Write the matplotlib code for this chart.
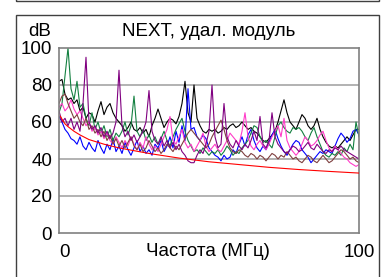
import matplotlib
matplotlib.use("Agg")
import matplotlib.pyplot as plt
from matplotlib.patches import Rectangle

plt.rcParams['font.family'] = ['Liberation Sans', 'DejaVu Sans']

freq = list(range(0, 101))

limit_freq = [0.5, 1, 2, 3, 5, 7, 10, 15, 20, 25, 30, 40, 50, 60, 70, 80, 90, 100]
limit_db = [63, 61.5, 59, 57.5, 55, 53, 50.5, 48, 46, 44.5, 43, 40.5, 38.5, 37, 35.5, 34.3, 33.3, 32.4]

blue = [63, 60, 56, 54, 51, 50, 48, 52, 47, 45, 49, 46, 44, 50, 46, 43, 48, 45, 51, 44,
        47, 43, 49, 45, 42, 46, 50, 44, 47, 43, 45, 42, 48, 46, 50, 44, 47, 52, 46, 55,
        49, 58, 50, 78, 56, 57, 52, 50, 53, 51, 46, 44, 42, 41, 39, 42, 40, 41, 45, 43,
        48, 52, 47, 53, 56, 50, 46, 44, 47, 45, 49, 53, 56, 51, 47, 44, 42, 45, 48, 50,
        49, 45, 43, 41, 38, 40, 42, 44, 43, 45, 44, 43, 47, 51, 54, 52, 49, 51, 55, 56, 53]

black = [82, 83, 75, 72, 73, 70, 72, 66, 68, 62, 65, 64, 60, 66, 71, 64, 68, 70, 65, 62,
         60, 58, 55, 57, 60, 56, 55, 57, 54, 56, 52, 58, 62, 67, 62, 57, 60, 62, 61, 59,
         63, 70, 82, 65, 60, 80, 62, 58, 55, 54, 56, 55, 56, 54, 55, 57, 56, 58, 59, 57,
         58, 60, 58, 56, 57, 55, 54, 52, 50, 49, 51, 53, 55, 60, 66, 72, 65, 60, 58, 56,
         60, 64, 62, 58, 56, 58, 62, 56, 52, 49, 47, 46, 47, 46, 48, 50, 52, 50, 53, 56, 56]

green = [65, 70, 85, 100, 78, 72, 82, 68, 70, 62, 58, 65, 56, 60, 54, 58, 52, 56, 50, 54,
         52, 55, 60, 53, 58, 74, 55, 52, 56, 50, 53, 49, 52, 48, 51, 55, 50, 47, 52, 56,
         59, 62, 55, 50, 47, 44, 45, 43, 46, 44, 42, 44, 43, 45, 42, 44, 47, 45, 42, 44,
         43, 46, 48, 50, 54, 58, 57, 52, 49, 50, 48, 46, 52, 58, 60, 57, 55, 54, 57, 56,
         57, 55, 52, 50, 54, 57, 52, 48, 44, 42, 41, 43, 42, 44, 42, 46, 44, 48, 45, 60, 52]

pink = [68, 70, 66, 68, 72, 67, 64, 66, 62, 58, 60, 55, 57, 53, 55, 51, 54, 50, 48, 52,
        49, 46, 50, 47, 52, 48, 45, 49, 46, 52, 48, 45, 47, 44, 48, 52, 56, 63, 50, 48,
        52, 56, 49, 46, 48, 44, 47, 50, 54, 47, 44, 46, 48, 45, 44, 47, 50, 54, 52, 50,
        48, 55, 65, 52, 47, 45, 48, 50, 47, 45, 48, 52, 55, 58, 52, 62, 50, 46, 44, 42,
        44, 48, 52, 50, 47, 48, 50, 53, 55, 50, 46, 44, 47, 45, 43, 41, 40, 38, 37, 36, 37]

brown = [70, 74, 75, 70, 66, 62, 64, 60, 58, 62, 56, 58, 54, 56, 52, 55, 50, 53, 48, 51,
         47, 50, 46, 49, 52, 47, 45, 48, 44, 46, 50, 47, 44, 46, 43, 45, 48, 46, 44, 47,
         45, 48, 51, 54, 56, 54, 52, 50, 48, 46, 48, 52, 55, 58, 61, 56, 50, 46, 44, 43,
         45, 44, 42, 41, 43, 42, 40, 42, 41, 39, 41, 43, 42, 40, 42, 41, 44, 42, 40, 41,
         39, 38, 40, 42, 41, 39, 38, 40, 42, 40, 38, 39, 41, 43, 45, 44, 42, 40, 41, 39, 38]

purple = [66, 60, 62, 58, 62, 56, 60, 55, 70, 95, 60, 56, 58, 54, 57, 52, 55, 51, 54, 60,
          88, 58, 52, 55, 50, 53, 49, 52, 55, 60, 77, 55, 50, 48, 52, 47, 50, 46, 49, 45,
          48, 44, 42, 39, 38, 38, 42, 45, 43, 48, 55, 80, 52, 46, 48, 70, 52, 48, 46, 50,
          47, 45, 48, 46, 50, 55, 50, 63, 48, 46, 50, 65, 52, 48, 46, 44, 43, 45, 47, 46,
          44, 45, 47, 49, 46, 45, 48, 46, 44, 43, 45, 44, 46, 45, 47, 45, 44, 43, 42, 41, 40]

W, H = 385, 277
fig = plt.figure(figsize=(W / 100, H / 100), dpi=100)

frame_col = '#404040'
top_box = Rectangle((16 / W, 1 - 1.3 / H), 363 / W, 0.05, transform=fig.transFigure,
                    fill=False, edgecolor=frame_col, lw=1.0, clip_on=False)
main_box = Rectangle((16 / W, -0.05), 363 / W, (1 - 14.7 / H) + 0.05, transform=fig.transFigure,
                     fill=False, edgecolor=frame_col, lw=1.0, clip_on=False)
fig.patches.extend([top_box, main_box])

ax = fig.add_axes([59 / W, 44 / H, 300 / W, 185 / H])
ax.set_xlim(0, 100)
ax.set_ylim(0, 100)

for y in [20, 40, 60, 80]:
    ax.axhline(y, color='#a6a6a6', lw=1.2, zorder=1)

lw = 0.8
ax.plot(freq, black, color='#000000', lw=lw, zorder=2)
ax.plot(freq, blue, color='#0000ff', lw=lw, zorder=2)
ax.plot(freq, green, color='#138040', lw=lw, zorder=2)
ax.plot(freq, pink, color='#ff3cc8', lw=lw, zorder=2)
ax.plot(freq, brown, color='#7f3f3f', lw=lw, zorder=2)
ax.plot(freq, purple, color='#800080', lw=lw, zorder=2)
ax.plot(limit_freq, limit_db, color='#ff0000', lw=lw, zorder=3)

for s in ax.spines.values():
    s.set_color('#808080')
    s.set_linewidth(1.2)

fs = 13.5
ax.set_yticks([0, 20, 40, 60, 80, 100])
ax.set_yticklabels(['0', '20', '40', '60', '80', '100'])
ax.set_xticks([0, 100])
ax.set_xticklabels(['0', '100'])
ax.tick_params(axis='both', length=0, labelsize=fs, colors='#000000')
ax.tick_params(axis='y', pad=5)
ax.tick_params(axis='x', pad=8)
ax.get_xticklabels()[0].set_horizontalalignment('left')

fig.text(208 / W, 1 - 251 / H, 'Частота (МГц)', ha='center', va='center', fontsize=fs)
fig.text(209 / W, 1 - 31 / H, 'NEXT, удал. модуль', ha='center', va='center', fontsize=fs)
fig.text(40 / W, 1 - 31 / H, 'dB', ha='center', va='center', fontsize=fs)

fig.savefig('out.png', dpi=100)
